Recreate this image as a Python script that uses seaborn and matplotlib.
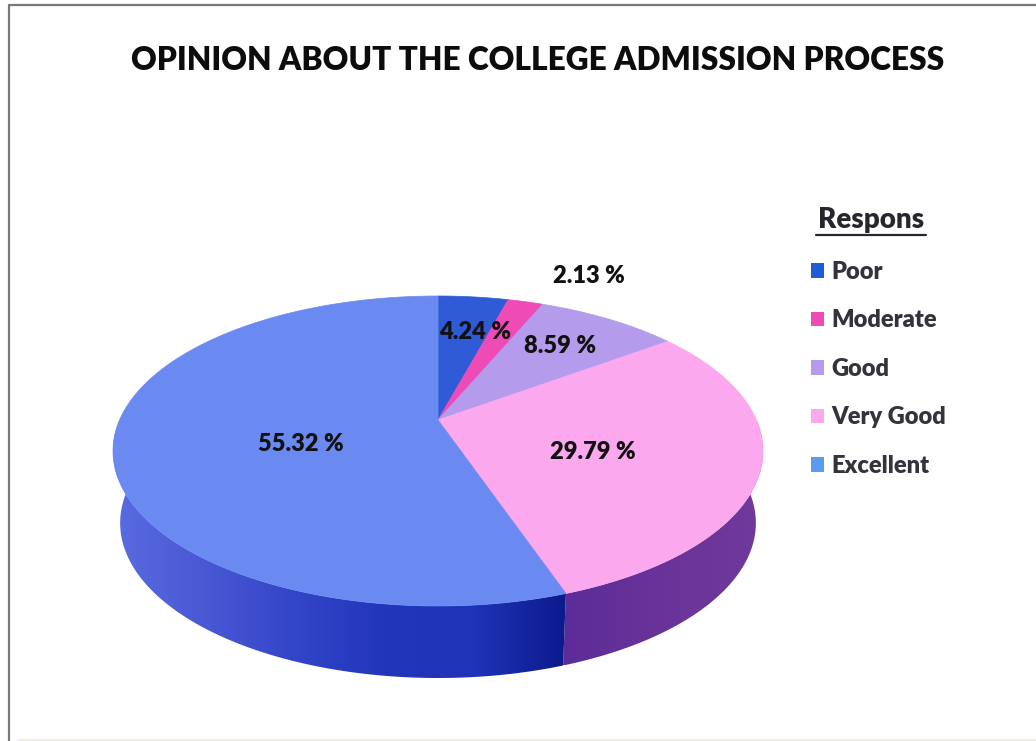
import numpy as np
import matplotlib
matplotlib.use('Agg')
import matplotlib.pyplot as plt
from matplotlib.colors import LinearSegmentedColormap
from matplotlib.patches import Patch, Polygon
import seaborn as sns

categories = ['Poor', 'Moderate', 'Good', 'Very Good', 'Excellent']
shares = [4.24, 2.13, 8.59, 29.79, 55.32]
top_colors = ['#2f5cd6', '#ee4bb6', '#b49bec', '#fba8ee', '#6a8af2']
legend_colors = ['#1f5bd6', '#ee4bb6', '#b49bec', '#fba8ee', '#5a9bf0']
side_colors = {
    'Very Good': ['#5c2c98', '#6a3399', '#70399c'],
    'Excellent': ['#5a6ce0', '#4a58d4', '#3345c8', '#2236bc', '#1f33b8', '#0c1a8c'],
}
title = 'OPINION ABOUT THE COLLEGE ADMISSION PROCESS'
legend_title = 'Respons'

# where each label sits on the page, in pixels
label_pos = [(475, 332), (589, 276), (560, 346), (593, 452), (301, 444)]

sns.set_theme(style='white')
plt.rcParams['font.family'] = ['Lato', 'DejaVu Sans']

# ellipse of the pie top on the page, apex sits above its centre (perspective)
CX, CY = 438, 451
RX, RY = 325, 155
APEX = 31
DEPTH = 72
SHRINK = 0.978


def project(theta, depth=0.0):
    # unit circle -> perspective ellipse in page pixels
    u, v = np.cos(np.radians(theta)), np.sin(np.radians(theta))
    k = APEX / RY
    w = 1 + k * v
    x = RX * np.sqrt(1 - k ** 2) * u / w
    y = (RY * v + APEX) / w
    if depth:
        x = x * SHRINK
    return CX + x, CY - y + depth


fig = plt.figure(figsize=(10.36, 7.41), dpi=100)
ax = fig.add_axes([0, 0, 1, 1])
wedges, _ = ax.pie(shares, colors=top_colors, startangle=90, counterclock=False)
ax.set_aspect('auto')
ax.set_xlim(0, 1036)
ax.set_ylim(741, 0)
ax.axis('off')

# scanned page border: left and top only, the rest ran off the scan
ax.plot([9, 9, 1036], [741, 5, 5], color='#777777', lw=1.6)
ax.plot([18, 1036], [739.5, 739.5], color='#efe9d8', lw=1.2)

# side wall first, only the parts facing us
for wedge, name in zip(wedges, categories):
    lo, hi = sorted((wedge.theta1, wedge.theta2))
    # clockwise wedges run through negative angles, the front is -180..0
    start, end = max(lo, -180), min(hi, 0)
    if name not in side_colors or end <= start:
        continue
    th = np.linspace(start, end, 200)
    x0, y0 = project(th)
    x1, y1 = project(th, DEPTH)
    outline = np.column_stack([np.r_[x0, x1[::-1]], np.r_[y0, y1[::-1]]])
    clip = Polygon(outline, closed=True, fc='none', ec='none')
    ax.add_patch(clip)
    cmap = LinearSegmentedColormap.from_list(name, side_colors[name])
    left, right = outline[:, 0].min(), outline[:, 0].max()
    top, bottom = outline[:, 1].min(), outline[:, 1].max()
    im = ax.imshow(np.linspace(0, 1, 256)[None, :], cmap=cmap, aspect='auto',
                   extent=(left, right, bottom, top), zorder=1)
    im.set_clip_path(clip)
ax.set_xlim(0, 1036)
ax.set_ylim(741, 0)

# top face, rebuilt from the wedges pie() worked out
for wedge, color in zip(wedges, top_colors):
    th = np.linspace(wedge.theta1, wedge.theta2, 200)
    x, y = project(th)
    pts = np.column_stack([np.r_[CX, x], np.r_[CY - APEX, y]])
    ax.add_patch(Polygon(pts, closed=True, fc=color, ec=color, lw=0.5, zorder=2))
    wedge.remove()

for share, (px, py) in zip(shares, label_pos):
    ax.text(px, py, f'{share:.2f} %', ha='center', va='center', fontsize=17,
            fontweight='heavy', color='#111111', zorder=3)

ax.text(538, 60, title, ha='center', va='center', fontsize=22.8,
        fontweight='heavy', color='#0c0c0c')

ax.text(871, 220, legend_title, ha='center', va='center', fontsize=20,
        fontweight='heavy', color='#26262e')
ax.plot([816, 926], [235, 235], color='#26262e', lw=1.6)

handles = [Patch(fc=c, ec='none') for c in legend_colors]
leg = ax.legend(handles, categories, loc='upper left', bbox_to_anchor=(811, 261),
                bbox_transform=ax.transData, frameon=False, fontsize=17,
                labelspacing=1.12, handlelength=0.56, handleheight=0.56,
                handletextpad=0.3, borderpad=0, borderaxespad=0)
for txt in leg.get_texts():
    txt.set_fontweight('heavy')
    txt.set_color('#33333c')

fig.savefig('out.png', dpi=100)
